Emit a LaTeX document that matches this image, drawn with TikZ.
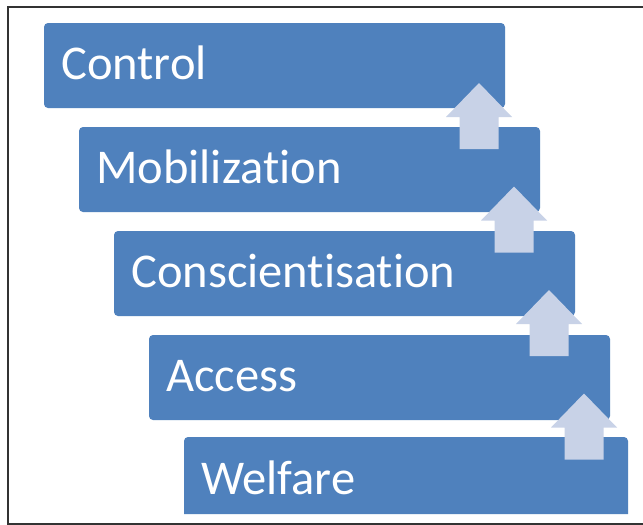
\documentclass[tikz,border=0pt]{standalone}
\usepackage{fontspec}
\setmainfont{Carlito}[RawFeature={-liga;-clig;-dlig}]
\definecolor{boxblue}{HTML}{4F81BD}
\definecolor{arrowfill}{HTML}{C8D2E7}
\definecolor{framegray}{HTML}{333333}
\begin{document}
\begin{tikzpicture}[x=1pt,y=-1pt,
  stepbox/.style={fill=boxblue, rounded corners=4pt},
  steplabel/.style={anchor=base west, text=white, font=\fontsize{48.5}{52}\selectfont, inner sep=0pt},
  uparrow/.style={fill=arrowfill, draw=none}]
\useasboundingbox (0,0) rectangle (643,525);
\fill[white] (0,0) rectangle (643,525);
% frame
\draw[framegray, line width=2pt] (643,7) -- (8,7) -- (8,524) -- (643,524);
% boxes
\fill[stepbox] (44,23) rectangle (505,108);
\fill[stepbox] (79,127) rectangle (540,212);
\fill[stepbox] (114,231) rectangle (575,316);
\fill[stepbox] (149,335) rectangle (610,420);
\fill[boxblue, rounded corners=4pt] (184,514) -- (184,437) -- (628,437) [sharp corners]-- (628,514) -- cycle;
% labels
\node[steplabel] (control) at (61,79) {Control};
\node[steplabel] (mobil) at (96,183) {Mobilization};
\node[steplabel] (consc) at (131,287) {Conscientisation};
\node[steplabel] (access) at (166,391) {Access};
\node[steplabel] (welfare) at (201,494) {Welfare};
% arrows
\foreach \i in {0,1,2,3} {
  \pgfmathsetmacro{\cx}{479+35*\i}
  \pgfmathsetmacro{\ty}{83+103.5*\i}
  \fill[uparrow] (\cx,\ty) -- (\cx+33,\ty+34) -- (\cx+19.5,\ty+34) -- (\cx+19.5,\ty+66)
     -- (\cx-19.5,\ty+66) -- (\cx-19.5,\ty+34) -- (\cx-33,\ty+34) -- cycle;
}
\end{tikzpicture}
\end{document}
